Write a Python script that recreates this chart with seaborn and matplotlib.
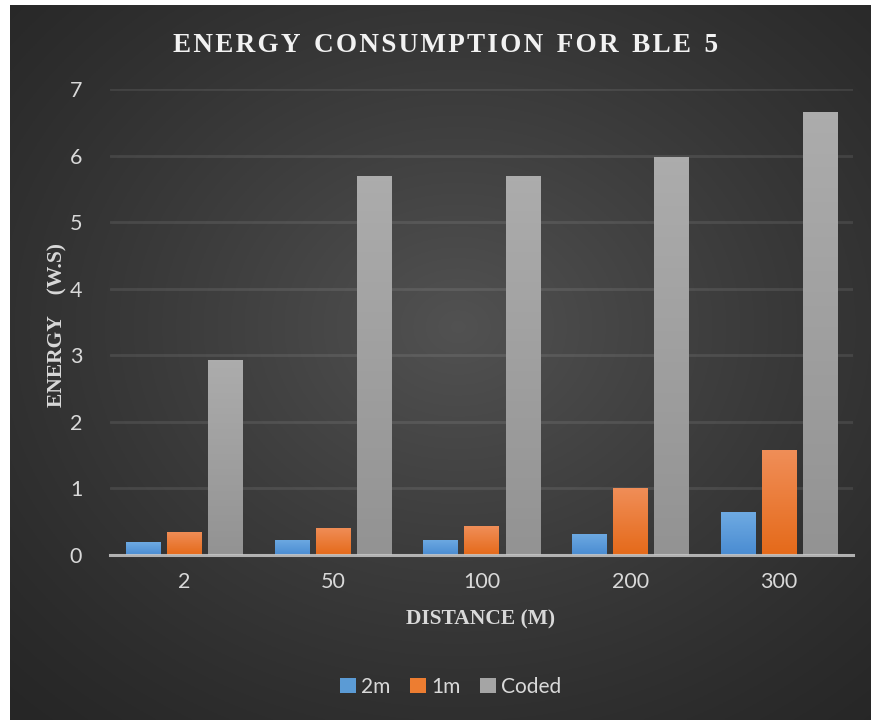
import numpy as np
import pandas as pd
import matplotlib
matplotlib.use("Agg")
import matplotlib.pyplot as plt
from matplotlib.colors import LinearSegmentedColormap
from matplotlib.patches import Patch
import seaborn as sns

# ---- data ----
distances = ["2", "50", "100", "200", "300"]
series_names = ["2m", "1m", "Coded"]
energy_2m = [0.19, 0.23, 0.23, 0.32, 0.64]
energy_1m = [0.35, 0.41, 0.43, 1.01, 1.58]
energy_coded = [2.93, 5.70, 5.70, 5.98, 6.65]
y_ticks = [0, 1, 2, 3, 4, 5, 6, 7]

df = pd.DataFrame({
    "distance": distances * 3,
    "series": sum([[s] * len(distances) for s in series_names], []),
    "energy": energy_2m + energy_1m + energy_coded,
})

colors = {"2m": "#5B9BD5", "1m": "#ED7D31", "Coded": "#A5A5A5"}
grads = {
    "2m": ("#6EAAE2", "#4A8CD2"),
    "1m": ("#F08E58", "#E56A1A"),
    "Coded": ("#ACACAC", "#939393"),
}

sns.set_theme(style="white")
plt.rcParams["font.family"] = ["Lato", "DejaVu Sans"]

W, H = 871, 720
fig = plt.figure(figsize=(W / 100, H / 100), dpi=100, facecolor="white")

# background radial gradient
bg = fig.add_axes([10 / W, 0, 1 - 10 / W, 1 - 5 / H], zorder=-10)
bg.set_axis_off()
yy, xx = np.mgrid[0:1:400j, 0:1:480j]
r = np.sqrt(((xx - 0.52) / 0.75) ** 2 + ((yy - 0.45) / 0.75) ** 2)
val = np.clip(1 - r, 0, 1)
g = 0.15 + 0.17 * val ** 1.2
img = np.dstack([g, g, g])
bg.imshow(img, extent=[0, 1, 0, 1], aspect="auto", origin="upper")
bg.set_xlim(0, 1)
bg.set_ylim(0, 1)

ax = fig.add_axes([110 / W, 1 - 555 / H, (853 - 110) / W, (555 - 89) / H])
ax.patch.set_alpha(0)

sns.barplot(data=df, x="distance", y="energy", hue="series",
            palette=colors, width=0.83, gap=0.17, ax=ax,
            order=distances, hue_order=series_names, legend=False,
            saturation=1, errorbar=None, linewidth=0, edgecolor="none")

ax.set_yticks(y_ticks)
ax.yaxis.grid(True, color="#ffffff", alpha=0.09, linewidth=2)
ax.set_axisbelow(True)
for s in ["top", "right", "left"]:
    ax.spines[s].set_visible(False)
ax.spines["bottom"].set_color("#c8c8c8")
ax.spines["bottom"].set_linewidth(2.2)
ax.spines["bottom"].set_alpha(0.85)
ax.spines["bottom"].set_zorder(5)
ax.tick_params(axis="both", length=0, colors="#d9d9d9", labelsize=15.5)
ax.tick_params(axis="y", pad=20)
ax.tick_params(axis="x", pad=12)
ax.set_xlabel("")
ax.set_ylabel("")

# gradient overlay on each bar
for container, name in zip(ax.containers, series_names):
    top_c, bot_c = grads[name]
    cmap = LinearSegmentedColormap.from_list(name, [bot_c, top_c])
    for p in container.patches:
        x0, y0 = p.get_x(), p.get_y()
        w, h = p.get_width(), p.get_height()
        im = ax.imshow(np.linspace(0, 1, 64).reshape(-1, 1), cmap=cmap,
                       extent=[x0, x0 + w, y0, y0 + h], origin="lower",
                       aspect="auto", zorder=p.get_zorder() + 0.1)
        im.set_clip_path(p)
ax.set_xlim(-0.5, len(distances) - 0.5)
ax.set_ylim(0, 7)

serif = ["Liberation Serif", "DejaVu Serif"]
hs = "\u200a"
title = "ENERGY CONSUMPTION FOR BLE 5"
spaced_title = hs.join(title).replace(" ", " " + hs)
fig.text(446 / W, 1 - 45 / H, spaced_title,
         ha="center", va="center", color="#f2f2f2", fontsize=19.5,
         fontweight="bold", family=serif)
fig.text(57 / W, 1 - 325 / H, "ENERGY    (W.S)", ha="center", va="center",
         rotation=90, color="#d9d9d9", fontsize=15.5, fontweight="bold",
         family=serif)
fig.text(481 / W, 1 - 619 / H, "DISTANCE (M)", ha="center", va="center",
         color="#d9d9d9", fontsize=15.5, fontweight="bold", family=serif)

# legend
handles = [Patch(facecolor=colors[n], edgecolor="none") for n in series_names]
leg = fig.legend(handles, series_names, loc="center", bbox_to_anchor=(451 / W, 1 - 687 / H),
                 ncol=3, frameon=False, fontsize=15, handlelength=0.75,
                 handleheight=0.75, handletextpad=0.25, columnspacing=0.95)
for t in leg.get_texts():
    t.set_color("#d9d9d9")

fig.savefig("out.png", dpi=100, facecolor="white")
